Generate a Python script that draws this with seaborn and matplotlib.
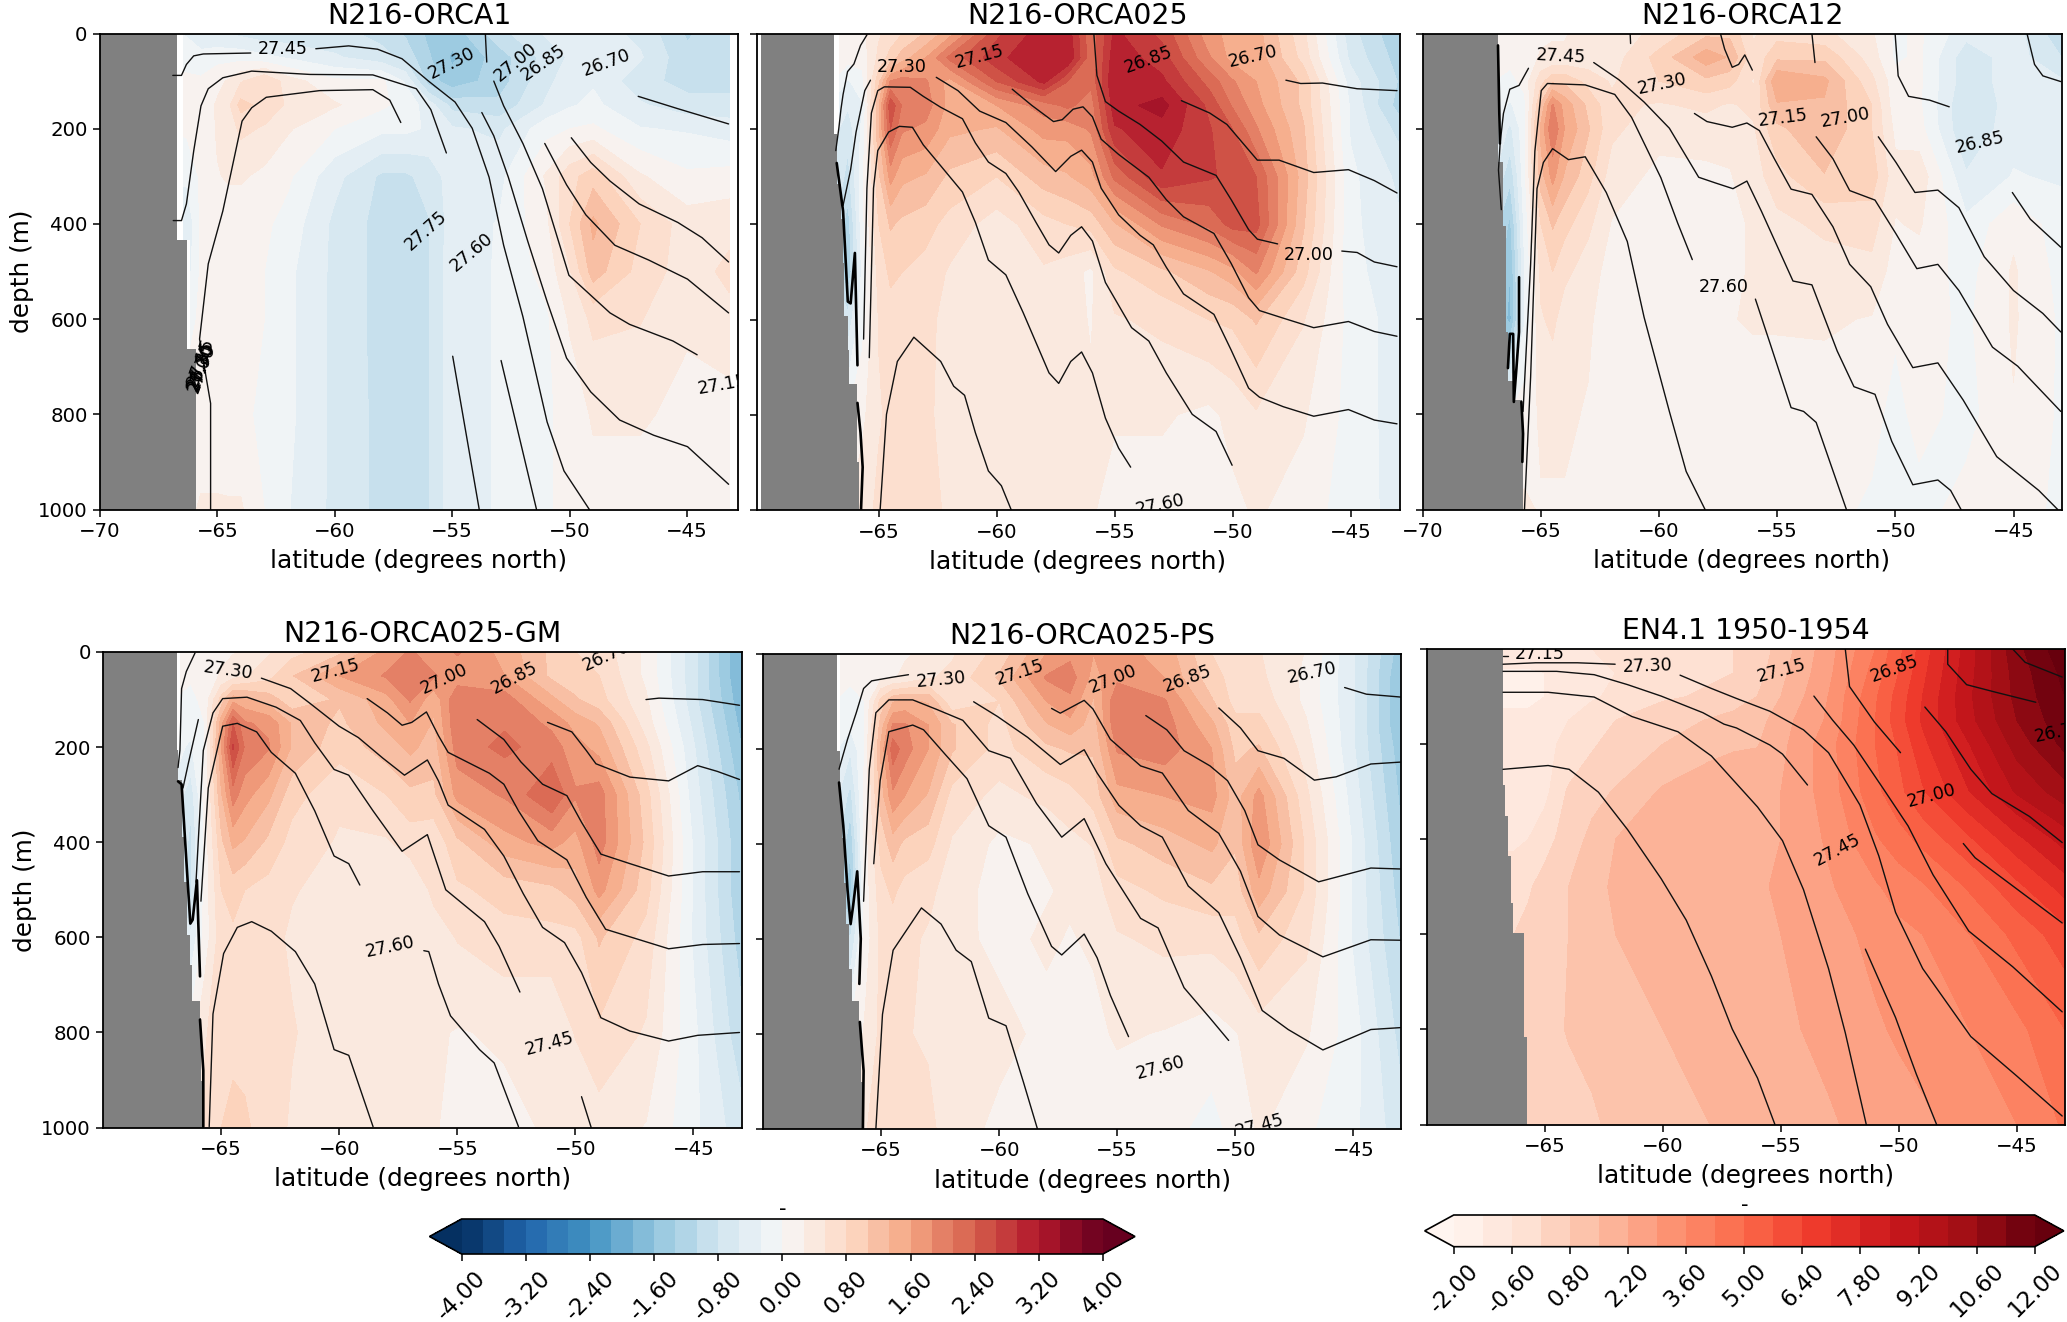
import numpy as np
import matplotlib
matplotlib.use("Agg")
import matplotlib.pyplot as plt
import seaborn as sns

# grid the colour fields were read on
field_lats = [-67, -66.3, -65.7, -65, -64.5, -64, -63, -62, -60, -58, -57, -56, -55, -53, -51, -50, -49, -47, -45, -43]
field_deps = [0, 50, 100, 150, 200, 300, 400, 500, 600, 800, 1000]

anom_ticks = ["-4.00", "-3.20", "-2.40", "-1.60", "-0.80", "0.00", "0.80", "1.60", "2.40", "3.20", "4.00"]
obs_ticks = ["-2.00", "-0.60", "0.80", "2.20", "3.60", "5.00", "6.40", "7.80", "9.20", "10.60", "12.00"]

# N216-ORCA1
orca1_field = [
    [-.2, -.3, -.4, -.5, -.55, -.6, -.7, -.7, -.7, -.9, -1.1, -1.4, -1.5, -.9, -.5, -.35, -.4, -.6, -1.1, -.9],
    [-.1, -.1, -.2, -.1, -.1, -.1, -.2, -.3, -.5, -.7, -.9, -1.3, -1.65, -1.2, -.7, -.5, -.4, -.5, -1.0, -.9],
    [.1, .05, .05, .2, .3, .5, .8, .4, .05, .05, -.3, -1.2, -1.5, -1.2, -.6, -.4, -.3, -.7, -.9, -.9],
    [.1, .05, .1, .3, .5, .9, .7, .5, .3, .05, -.1, -.4, -.9, -1.0, -.5, -.3, -.2, -.5, -.7, -.7],
    [0, .05, .05, .3, .4, .6, .5, .3, 0, -.2, -.2, -.3, -.5, -.6, -.1, 0, .05, -.25, -.3, -.4],
    [-.2, -.2, .05, .25, .3, .3, .2, .05, -.45, -.85, -.85, -.7, -.4, -.35, .3, .7, .95, .3, .05, .1],
    [-.6, -.5, .05, .1, .1, .1, .05, -.1, -.6, -.9, -.9, -.82, -.4, -.25, .2, .8, 1.4, .8, .4, .45],
    [-.5, -.4, .05, .05, .05, .05, 0, -.2, -.6, -.9, -.9, -.82, -.35, -.25, .1, .5, 1.2, .7, .4, .6],
    [-.1, -.1, .05, .05, .05, .05, 0, -.2, -.6, -.9, -.9, -.82, -.35, -.25, -.05, .3, .6, .55, .3, .45],
    [.1, .1, .1, .1, .05, .05, -.05, -.2, -.6, -.88, -.9, -.82, -.35, -.25, -.05, .1, .3, .3, .2, .15],
    [.2, .2, .3, .3, .3, .3, 0, -.25, -.6, -.88, -.9, -.82, -.35, -.25, -.05, .1, .15, .15, .1, .1],
]
orca1_lines = [
    ([-66.9, -66.53, -66.32, -66.01, -65.6, -63.58], [88, 88, 65, 47, 43, 41]),
    ([-60.81, -59.41, -58.18, -57.14, -56.01, -54.88, -54.15, -53.43, -52.81, -51.99, -50.96, -50.24, -49.16],
     [32, 26, 33, 53, 100, 144, 199, 302, 445, 595, 816, 919, 1000]),
    ([-53.59, -53.53], [0, 60]),
    ([-53.23, -52.81, -51.99, -51.16, -50.03, -48.28, -47.45, -45.6, -44.57], [100, 152, 231, 326, 508, 587, 611, 646, 675]),
    ([-53.74, -53.23, -52.61, -51.78, -50.96, -50.13, -49.1, -47.87, -46.42, -44.98, -43.23],
     [166, 215, 302, 437, 563, 682, 753, 812, 844, 868, 947]),
    ([-47.08, -45.39, -43.23], [132, 158, 190]),
    ([-49.93, -49.1, -48.28, -47.04, -45.39, -44.36, -43.23], [219, 271, 310, 358, 397, 429, 480]),
    ([-51.06, -50.13, -49.31, -48.07, -46.63, -44.98, -43.23], [231, 318, 381, 445, 476, 516, 587]),
    ([-66.88, -66.53, -66.32, -66.01, -65.7, -65.39, -64.77, -63.54, -61.06, -58.38, -56.53, -55.91, -55.25],
     [393, 393, 358, 247, 152, 116, 93, 79, 86, 87, 116, 160, 251]),
    ([-65.29, -65.29, -65.76, -65.39, -64.77, -63.95, -63.54, -62.92, -60.65, -58.38, -57.66, -57.19],
     [1000, 777, 642, 484, 373, 184, 156, 134, 120, 118, 140, 187]),
    ([-54.98, -53.85], [678, 1000]),
    ([-52.92, -51.41], [687, 1000]),
]
orca1_labels = [
    ("27.45", -62.2, 32, 0), ("27.30", -55.04, 62, 27), ("27.00", -52.3, 61, 40), ("26.85", -51.12, 61, 35),
    ("26.70", -48.44, 61, 20), ("27.75", -56.11, 414, 42), ("27.60", -54.15, 460, 40), ("27.15", -43.5, 737, 10),
    ("26.70", -65.7, 700, 70), ("26.85", -65.72, 695, 70), ("27.00", -65.68, 705, 70), ("27.15", -65.7, 690, 70),
    ("27.30", -65.66, 700, 70),
]
orca1_coast_dep = [0, 433, 663, 1000]
orca1_coast_lat = [-66.7, -66.28, -65.9, -65.9]
orca1_gap_dep = [0, 433, 663, 1000]
orca1_gap_lat = [-66.45, -66.15, -65.9, -65.9]

# N216-ORCA025
orca025_field = [
    [.1, .1, .2, .5, .65, .8, 1.1, 1.5, 2.6, 3.1, 3.1, 2.2, 3.0, 2.6, 1.7, 1.5, 1.45, .6, -.7, -1.3],
    [.1, .1, .1, .6, .9, 1.2, 1.6, 2.2, 2.85, 3.2, 3.2, 2.2, 3.1, 2.8, 1.9, 1.5, 1.5, .7, -.6, -1.2],
    [0, -.3, -.1, 1.0, 1.9, 2.0, 1.9, 1.5, 2.4, 3.0, 2.4, 2.2, 3.2, 3.0, 2.3, 1.9, 1.6, 1.0, -.4, -1.1],
    [-.3, -.5, -.3, 1.3, 2.6, 2.1, 2.0, 1.5, 1.6, 2.0, 2.2, 2.0, 3.1, 3.3, 2.6, 2.1, 1.7, 1.0, -.3, -1.2],
    [-.4, -.7, -.2, 1.3, 2.4, 1.9, 1.8, 1.4, 1.3, 1.7, 1.7, 1.9, 2.9, 3.1, 2.7, 2.4, 1.9, 1.1, -.3, -.9],
    [-.5, -.9, -.1, 1.0, 1.7, 1.4, 1.3, 1.0, .8, 1.2, 1.3, 1.5, 2.2, 2.9, 2.7, 2.6, 2.4, 1.2, -.2, -.6],
    [-.7, -1.2, -.1, .8, 1.1, 1.0, .9, .7, .4, .7, .8, .9, 1.3, 1.9, 2.2, 2.5, 2.5, 1.1, -.2, -.5],
    [-.8, -1.3, -.2, .65, .85, .8, .7, .5, .35, .5, .4, .2, .75, 1.0, 1.3, 1.5, 1.9, .9, -.2, -.4],
    [-.4, -.7, -.1, .55, .7, .7, .6, .45, .3, .4, .35, .25, .5, .6, .8, .85, 1.1, .55, -.1, -.4],
    [0, 0, .2, .5, .6, .6, .55, .5, .45, .35, .3, .3, .3, .3, .2, .35, .5, .3, -.1, -.4],
    [.3, .3, .4, .6, .65, .65, .6, .5, .4, .3, .3, .3, .15, .15, .15, .2, .3, .15, -.15, -.35],
]
orca025_lines = [
    ([-66.82, -66.69, -66.6, -66.51, -66.32, -66.05, -65.77, -65.5], [245, 198, 158, 127, 79, 63, 24, 2]),
    ([-65.35, -65.59, -65.96, -66.19, -66.51], [97, 119, 206, 285, 360]),
    ([-55.88, -55.75, -55.39, -54.83, -53.92, -53, -52.08, -50.7, -50.06, -49.32, -48.95, -48.09],
     [0, 87, 142, 162, 190, 225, 269, 297, 348, 411, 431, 441]),
    ([-59.34, -58.51, -57.59, -57.22, -56.76, -56.34, -55.94, -55.57, -54.83, -53.55, -52.81, -52.08, -50.79, -50.06,
      -49.32, -48.86, -47.85, -46.56, -45.09, -43.99, -43.03],
     [116, 150, 184, 180, 158, 153, 174, 221, 253, 301, 348, 384, 419, 482, 554, 581, 597, 617, 604, 625, 635]),
    ([-62.56, -61.64, -60.72, -59.61, -58.51, -57.5, -56.86, -56.4, -55.94, -55.57, -54.83, -53.92, -53.36, -52.81,
      -52.08, -50.79, -50.06, -49.32, -48.86, -47.85, -46.56, -45.09, -43.99, -43.03],
     [91, 119, 162, 186, 237, 289, 257, 244, 269, 324, 380, 423, 443, 490, 546, 589, 664, 744, 763, 783, 803, 789, 811, 819]),
    ([-65.64, -65.5, -65.31, -65.04, -64.76, -63.66, -63.11, -62.37, -61.45, -60.9, -60.35, -59.61, -59.06, -58.33,
      -57.78, -57.37, -56.86, -56.4, -55.94, -55.39, -54.28, -53.55, -52.81, -51.71, -50.7, -50.02],
     [641, 324, 166, 119, 111, 112, 131, 154, 178, 229, 269, 293, 332, 396, 443, 460, 423, 405, 435, 522, 617, 645, 712, 799, 835, 906]),
    ([-65.4, -65.22, -65.04, -64.58, -64.12, -63.57, -63.11, -62.37, -61.45, -60.9, -60.35, -59.61, -58.88, -57.78,
      -57.37, -56.86, -56.4, -55.94, -55.39, -54.83, -54.32],
     [680, 324, 245, 206, 194, 196, 233, 277, 332, 396, 475, 506, 585, 712, 734, 688, 668, 712, 807, 870, 910]),
    ([-64.94, -64.67, -64.21, -63.51, -62.37, -61.82, -61.36, -60.9, -60.35, -59.8, -59.38],
     [1000, 799, 688, 637, 688, 740, 759, 838, 918, 949, 1000]),
    ([-47.74, -47.11, -46.19, -44.72, -43.03], [97, 104, 103, 115, 119]),
    ([-52.17, -50.97, -50.24, -48.95, -48.03, -46.56, -45.09, -43.99, -43.03], [140, 166, 190, 265, 265, 291, 285, 308, 334]),
    ([-45.37, -44.72, -43.99, -43.03], [456, 459, 479, 489]),
]
orca025_coast_lines = [
    ([-66.78, -66.51, -66.31, -66.19, -66.01, -65.9], [271, 372, 562, 566, 460, 696]),
    ([-65.9, -65.77, -65.68, -65.75], [775, 838, 910, 1000]),
]
orca025_labels = [
    ("27.30", -64.03, 70, 0), ("27.15", -60.72, 47, 15), ("26.85", -53.55, 55, 20), ("26.70", -49.13, 47, 13),
    ("27.00", -46.75, 464, 0), ("27.60", -53.09, 989, 12),
]
orca025_coast_dep = [0, 210, 316, 388, 482, 593, 664, 735, 900, 1000]
orca025_coast_lat = [-66.875, -66.78, -66.6, -66.53, -66.45, -66.32, -66.27, -65.9, -65.83, -65.75]
orca025_gap_dep = [0, 210, 210]
orca025_gap_lat = [-66.69, -66.78, -66.78]

# N216-ORCA12
orca12_field = [
    [.15, .15, .15, .2, .25, .25, .35, .4, .6, 1.0, 1.0, .5, .7, .6, .3, -.05, .05, -.45, -.4, -1.0],
    [.1, .1, .1, .3, .3, .3, .35, .4, .9, 1.5, 1.3, .6, 1.0, 1.0, .4, -.05, .05, -.7, -.4, -.8],
    [0, -.1, .1, .7, 1.0, 1.0, .7, .5, .8, 1.0, .9, .5, 1.6, 1.4, .6, .1, .05, -.7, -.4, -.5],
    [-.1, -.3, -.1, 1.1, 1.9, 1.5, 1.0, .6, .5, .6, .5, .6, 1.3, 1.3, .8, .1, .05, -.8, -.4, -.4],
    [-.2, -.6, -.1, 1.4, 2.1, 1.6, 1.1, .6, .35, .4, .35, .5, 1.0, 1.3, .8, .2, .1, -.8, -.35, -.4],
    [-.5, -1.0, -.1, 1.2, 1.7, 1.3, .9, .4, .2, .2, .25, .4, .7, 1.05, .95, .35, .45, -.5, -.25, -.3],
    [-.9, -1.4, -.2, .8, 1.1, .9, .6, .25, .15, .2, .2, .3, .45, .6, .65, .25, .3, -.2, .2, -.15],
    [-1.1, -1.6, -.3, .6, .8, .6, .4, .15, .15, .15, .2, .3, .35, .4, .45, .15, .15, -.1, .3, -.1],
    [-1.2, -1.7, -.3, .5, .6, .4, .3, .15, .15, .15, .25, .3, .3, .3, .25, .05, .1, -.05, .3, -.05],
    [0, 0, .15, .3, .3, .3, .25, .15, .1, .1, .1, .1, .1, .15, .1, -.1, .1, -.1, .25, -.05],
    [.15, .15, .3, .25, .25, .25, .25, .15, .1, .1, .1, .1, .1, .1, -.05, -.1, -.1, .1, .1, -.05],
]
orca12_lines = [
    ([-65.52, -65.92, -66.31, -66.58, -66.72, -66.79, -66.67], [73, 109, 117, 168, 231, 287, 370]),
    ([-61.22, -61.2], [0, 21]),
    ([-57.4, -57.22, -56.9, -56.63, -56.37, -56.05], [0, 33, 71, 65, 45, 77]),
    ([-53.53, -53.4], [0, 61]),
    ([-50.01, -49.88, -49.44, -48.55, -47.72], [0, 89, 132, 140, 154]),
    ([-44.43, -44.11, -43.76, -43], [0, 65, 89, 101]),
    ([-58.5, -57.97, -56.9, -56.28, -55.75, -55.12, -54.41, -53.53, -52.64, -51.93, -51.04, -50.33, -49.26, -48.2,
      -47.13, -45.71, -43.93, -43.13],
     [168, 185, 197, 188, 204, 263, 327, 338, 406, 485, 532, 611, 702, 692, 770, 889, 960, 1000]),
    ([-50.72, -49.97, -49.17, -48.2, -47.31, -46.24, -45, -43.76, -43], [217, 271, 334, 329, 366, 469, 540, 588, 627]),
    ([-53.35, -52.64, -51.93, -50.86, -49.97, -49.09, -48.2, -47.31, -45.89, -44.82, -43],
     [217, 263, 330, 350, 421, 494, 485, 540, 659, 699, 794]),
    ([-62.76, -61.7, -60.63, -59.56, -58.32, -57.61, -56.87, -56.28, -55.66, -54.33, -53.53, -52.46, -51.75, -50.86,
      -50.15, -49.26, -48.2, -47.66, -47.22],
     [61, 97, 144, 199, 302, 314, 326, 310, 374, 520, 528, 667, 742, 758, 857, 948, 938, 960, 1000]),
    ([-65.75, -65.43, -65.25, -64.98, -64.72, -63.12, -61.87, -61.16, -59.92, -59.21, -58.59],
     [794, 485, 247, 120, 105, 108, 128, 176, 303, 398, 475]),
    ([-65.69, -65.43, -65.16, -64.89, -64.5, -63.83, -63.12, -62.23, -61.34, -60.63, -59.56, -58.85, -58.05],
     [1000, 722, 326, 271, 242, 265, 259, 334, 437, 596, 794, 920, 1000]),
    ([-55.92, -55.3, -54.41, -53.88, -53.35, -52.07], [558, 651, 786, 794, 817, 1000]),
    ([-45.05, -44.29, -43], [334, 390, 449]),
]
orca12_coast_lines = [
    ([-66.81, -66.73], [25, 231]),
    ([-65.92, -65.92, -66.03, -66.14, -66.17, -66.31, -66.39], [512, 627, 703, 774, 631, 631, 703]),
    ([-65.82, -65.75, -65.78], [774, 841, 900]),
]
orca12_labels = [
    ("27.45", -64.13, 48, -3), ("27.30", -59.87, 105, 12), ("27.15", -54.77, 177, 7), ("27.00", -52.1, 177, 10),
    ("26.85", -46.42, 228, 13), ("27.60", -57.26, 532, 0),
]
orca12_coast_dep = [0, 271, 405, 627, 730, 770, 801, 1000]
orca12_coast_lat = [-66.79, -66.58, -66.46, -66.37, -66.14, -65.78, -65.75, -65.75]

# N216-ORCA025-GM
gm_field = [
    [.05, .05, .1, .2, .25, .3, .5, .7, 1.0, 1.7, 1.9, 1.7, 1.9, 1.5, 1.0, .8, .7, .2, -.7, -1.9],
    [.05, .05, .1, .3, .4, .5, .7, 1.05, 1.6, 1.9, 2.1, 1.9, 1.7, 1.6, 1.0, .9, .8, .2, -.7, -1.9],
    [0, -.1, .1, .9, 1.5, 1.4, 1.2, .9, 1.1, 1.5, 1.9, 1.4, 2.1, 2.0, 1.4, 1.1, .9, .3, -.7, -1.8],
    [-.1, -.2, 0, 1.5, 2.4, 1.9, 1.8, 1.3, 1.0, 1.4, 1.6, 1.3, 2.1, 2.1, 1.8, 1.5, 1.3, .4, -.6, -1.7],
    [-.2, -.3, 0, 1.6, 2.7, 2.1, 1.9, 1.3, .9, 1.2, 1.4, 1.2, 2.0, 2.2, 2.0, 1.7, 1.5, .6, -.5, -1.6],
    [-.3, -.7, .1, 1.3, 2.0, 1.7, 1.4, .9, .6, .8, 1.0, 1.0, 1.7, 1.9, 2.4, 1.9, 2.0, .9, -.4, -1.4],
    [-.3, -.9, .1, 1.0, 1.4, 1.3, 1.0, .7, .5, .5, .65, .6, 1.0, 1.5, 1.7, 1.5, 2.0, 1.0, -.3, -1.3],
    [-.3, -.9, .1, .8, .9, .8, .7, .55, .45, .4, .3, .6, .75, .9, 1.0, 1.2, 1.7, .9, -.3, -1.3],
    [-.1, -.5, .1, .7, .75, .7, .6, .5, .4, .4, .4, .4, .55, .7, .7, .7, 1.1, .7, -.3, -1.2],
    [0, .1, .5, .7, .75, .7, .65, .55, .4, .4, .35, .3, .25, .3, .3, .55, .75, .5, -.2, -1.0],
    [.2, .3, .6, .8, .85, .85, .65, .5, .3, .3, .3, .3, .15, .2, .3, .3, .4, .25, -.2, -.7],
]
gm_lines = [
    ([-66.11, -66.48, -66.68, -66.75, -66.83], [2, 41, 77, 207, 243]),
    ([-65.97, -66.38, -66.62], [142, 231, 286]),
    ([-58.82, -57.96, -57.34, -56.93, -56.31, -55.8, -55.39, -53.64, -53.03, -52.41, -51.59, -50.36, -49.54, -48.72,
      -46.05, -44.61, -43.05],
     [98, 128, 154, 148, 126, 176, 211, 255, 278, 334, 397, 437, 516, 583, 624, 615, 613]),
    ([-51.18, -50.15, -49.54, -49.13, -47.69, -46.05, -44.82, -43.99, -43.05], [148, 168, 207, 235, 263, 271, 239, 251, 268]),
    ([-54.16, -53.03, -52.31, -51.39, -50.36, -49.74, -48.92, -47.69, -46.05, -44.61, -43.05],
     [142, 184, 231, 278, 302, 358, 425, 445, 471, 462, 462]),
    ([-63.3, -62.06, -61.24, -60.01, -59.19, -58.16, -57.24, -56.27, -55.8, -55.39, -53.85, -53.03, -52.21, -51.39,
      -50.46, -49.74, -48.92, -47.69, -46.05, -44.82, -43.05],
     [55, 77, 108, 156, 180, 223, 259, 227, 271, 322, 373, 429, 508, 579, 611, 674, 769, 797, 818, 806, 800]),
    ([-66.07, -65.76, -65.35, -64.94, -63.91, -62.68, -61.65, -61.04, -60.22, -59.6, -58.57, -57.34, -56.27, -55.49,
      -53.85, -53.23, -52.35],
     [484, 207, 128, 98, 95, 116, 144, 191, 247, 259, 334, 419, 384, 500, 567, 619, 715]),
    ([-65.86, -65.55, -64.94, -64.32, -63.5, -62.88, -61.86, -61.04, -60.22, -59.6, -59.13],
     [524, 286, 156, 150, 168, 211, 255, 334, 429, 445, 490]),
    ([-65.51, -65.35, -64.9, -64.32, -63.71, -62.88, -61.86, -61.04, -60.22, -59.6, -58.57],
     [998, 761, 634, 579, 567, 587, 630, 698, 836, 848, 998]),
    ([-56.42, -56.21, -55.8, -55.29, -54.06, -53.44, -52.41], [628, 630, 698, 765, 836, 864, 998]),
    ([-49.74, -49.33], [935, 1000]),
    ([-47.01, -46.46, -44.61, -43.05], [100, 97, 100, 112]),
]
gm_coast_lines = [
    ([-66.83, -66.68, -66.48, -66.31, -66.21, -66.03, -65.9], [272, 278, 437, 571, 563, 480, 682]),
    ([-65.9, -65.76, -65.76], [773, 880, 998]),
]
gm_labels = [
    ("27.30", -64.69, 39, -8), ("27.15", -60.17, 39, 15), ("27.00", -55.55, 57, 25), ("26.85", -52.56, 55, 28),
    ("26.70", -48.7, 9, 25), ("27.60", -57.85, 621, 12), ("27.45", -51.08, 823, 15),
]
gm_coast_dep = [0, 207, 270, 389, 484, 595, 658, 733, 769, 903, 1000]
gm_coast_lat = [-66.89, -66.83, -66.68, -66.56, -66.46, -66.33, -66.25, -65.92, -65.84, -65.76, -65.76]
gm_gap_dep = [0, 207, 207]
gm_gap_lat = [-66.75, -66.83, -66.83]

# N216-ORCA025-PS
ps_field = [
    [.05, .05, .1, .15, .2, .25, .3, .5, .9, 1.6, 1.8, 1.6, 1.7, 1.5, .8, .6, .55, .25, -.5, -1.5],
    [.05, .05, .1, .2, .25, .3, .5, .6, 1.1, 1.9, 2.0, 1.5, 1.8, 1.6, .9, .7, .6, .2, -.5, -1.6],
    [0, -.1, 0, .9, 1.3, 1.4, 1.3, .6, .8, 1.6, 1.8, 1.3, 2.1, 1.9, 1.1, .7, .7, .2, -.5, -1.6],
    [-.1, -.2, 0, 1.2, 1.9, 1.9, 1.6, 1.1, .7, 1.3, 1.5, 1.2, 2.1, 2.0, 1.4, .9, .9, .3, -.5, -1.6],
    [-.2, -.5, 0, 1.4, 2.3, 2.0, 1.6, 1.1, .7, 1.0, 1.1, 1.1, 1.9, 2.0, 1.6, 1.0, 1.1, .4, -.5, -1.5],
    [-.4, -.9, .1, 1.2, 1.8, 1.6, 1.3, .7, .45, .6, .7, .9, 1.5, 1.6, 1.7, 1.2, 1.7, .6, -.4, -1.4],
    [-.6, -1.3, .1, .9, 1.2, 1.0, .9, .5, .2, .3, .45, .55, 1.0, 1.2, 1.4, 1.1, 1.85, .75, -.3, -1.3],
    [-.9, -1.5, .1, .7, .85, .7, .6, .4, .15, .25, .3, .4, .7, .85, 1.0, .9, 1.5, .75, -.3, -1.2],
    [-.4, -.8, .1, .6, .65, .6, .5, .35, .2, .3, .25, .3, .5, .6, .6, .7, 1.0, .6, -.3, -1.1],
    [0, 0, .3, .6, .6, .55, .5, .4, .35, .2, .15, .2, .3, .25, .15, .25, .4, .3, -.15, -.9],
    [.3, .3, .5, .7, .7, .65, .6, .4, .2, .15, .1, .15, .1, .1, -.1, .1, .3, .05, -.2, -.7],
]
ps_lines = [
    ([-63.84, -64.49, -65.4, -65.74, -66.05, -66.42, -66.65, -66.78], [44, 49, 57, 73, 124, 180, 220, 243]),
    ([-45.37, -44.45, -43.01], [71, 85, 91]),
    ([-50.7, -49.78, -49.04, -47.94, -46.65, -45.73, -44.26, -43.01], [114, 156, 204, 220, 266, 259, 232, 228]),
    ([-53.79, -52.9, -52.17, -51.07, -50.33, -49.6, -49.04, -48.13, -46.47, -44.26, -43.01],
     [130, 160, 204, 236, 267, 330, 402, 434, 480, 451, 453]),
    ([-57.78, -57.41, -56.4, -56.03, -55.29, -54.01, -53.09, -51.99, -50.7, -49.78, -49.04, -48.13, -46.29, -44.26, -43.01],
     [115, 125, 98, 116, 180, 236, 251, 330, 378, 458, 553, 592, 638, 602, 603]),
    ([-61.08, -60.07, -58.79, -57.41, -56.4, -55.85, -54.93, -54.01, -53.09, -51.99, -50.7, -49.78, -48.86, -47.76,
      -46.29, -44.26, -43.01],
     [101, 132, 176, 233, 202, 251, 319, 362, 386, 489, 545, 640, 751, 791, 834, 791, 787]),
    ([-65.74, -65.5, -65.22, -64.67, -63.66, -62.65, -61.54, -60.44, -59.52, -58.42, -57.35, -56.4, -55.48, -54.01,
      -53.27, -52.17, -51.07, -50.28],
     [521, 243, 124, 97, 97, 117, 140, 204, 220, 315, 386, 347, 442, 557, 577, 703, 767, 814]),
    ([-65.31, -65.04, -64.67, -63.66, -63.2, -62.28, -61.36, -60.44, -59.71, -58.79, -57.78, -57.35, -56.4, -55.85,
      -55.29, -54.52],
     [442, 267, 164, 150, 160, 212, 263, 362, 386, 505, 616, 634, 590, 640, 719, 806]),
    ([-65.22, -64.94, -64.49, -63.29, -62.46, -61.82, -61.18, -60.44, -59.71, -58.97, -58.38],
     [1000, 759, 624, 535, 569, 624, 648, 767, 783, 902, 1000]),
]
ps_coast_lines = [
    ([-66.78, -66.6, -66.42, -66.29, -66.18, -66.01, -65.86, -65.92], [271, 362, 497, 569, 529, 458, 600, 695]),
    ([-65.9, -65.74, -65.77], [775, 878, 1000]),
]
ps_labels = [
    ("27.30", -62.45, 55, 5), ("27.15", -59.1, 39, 18), ("27.00", -55.18, 53, 22), ("26.85", -52.04, 53, 20),
    ("26.70", -46.75, 41, 12), ("27.60", -53.18, 872, 15), ("27.45", -48.95, 993, 15),
]
ps_coast_dep = [0, 204, 315, 387, 482, 569, 664, 731, 775, 902, 1000]
ps_coast_lat = [-66.87, -66.74, -66.65, -66.58, -66.47, -66.36, -66.25, -65.92, -65.85, -65.77, -65.77]
ps_gap_dep = [0, 204, 204]
ps_gap_lat = [-66.72, -66.74, -66.74]

# EN4.1 1950-1954
en4_field = [
    [-.9, -.9, -.9, -.8, -.75, -.7, -.6, -.5, -.25, 0, .1, .35, 1.1, 2.6, 4.3, 5.5, 6.7, 8.9, 11.1, 12.5],
    [-1.4, -1.4, -1.4, -1.3, -1.2, -1.1, -.9, -.6, -.2, 0, .1, .5, 1.3, 2.7, 4.6, 5.7, 6.9, 9, 10.9, 12.2],
    [-1.4, -1.4, -1.4, -1.3, -1.15, -1, -.7, -.45, 0, .2, .5, .8, 1.5, 2.9, 4.9, 6, 7.1, 9.1, 10.8, 12],
    [-1.2, -1.2, -1.2, -1, -.8, -.6, -.2, .1, .5, .85, 1, 1.2, 1.9, 3, 5, 6.1, 7.2, 9, 10.6, 11.8],
    [-1.2, -1.1, -1, -.7, -.6, -.5, 0, .4, .8, 1.3, 1.4, 1.45, 2, 3.3, 5, 5.8, 6.9, 8.5, 10.2, 11.5],
    [-1, -1.1, -1, -.8, -.3, .2, .6, .85, 1.6, 1.85, 2, 2.1, 2.2, 3.2, 4.8, 5.5, 6.3, 7.8, 9.3, 10.3],
    [-.7, -.7, -.6, -.2, .15, .5, .95, 1.5, 1.85, 2, 2.1, 2.15, 2.2, 3, 4.2, 4.7, 5.2, 6.3, 7.6, 8.8],
    [-.3, -.3, 0, .4, .6, .8, 1.3, 1.6, 1.85, 2, 2.05, 2.15, 2.25, 2.8, 3.5, 3.9, 4.2, 5.1, 6.2, 7.4],
    [0, .1, .3, .6, .7, .8, 1.2, 1.5, 1.75, 1.9, 2, 2.1, 2.2, 2.6, 3.1, 3.4, 3.6, 4.3, 5.2, 6.1],
    [.2, .3, .4, .6, .7, .85, 1, 1.1, 1.5, 1.7, 1.8, 1.9, 2.05, 2.4, 2.8, 3, 3.2, 3.6, 4.1, 5],
    [.1, .1, .2, .4, .45, .5, .7, .95, 1.15, 1.5, 1.6, 1.7, 1.8, 2.1, 2.5, 2.6, 2.75, 3.2, 3.6, 4.4],
]
en4_lines = [
    ([-66.77, -66.54], [14, 14]),
    ([-66.77, -65.39, -63.62, -62.02], [32, 29, 29, 32]),
    ([-66.77, -64.5, -62.91, -61.49, -60.07, -58.3, -57.41, -56.88, -55.46, -54.93, -53.87],
     [47, 47, 54, 75, 99, 134, 158, 166, 202, 221, 286]),
    ([-66.77, -64.86, -62.91, -61.31, -59.36, -57.94, -55.99, -54.93, -54.04, -52.98, -52.27, -51.38],
     [91, 91, 101, 142, 174, 225, 332, 403, 506, 672, 807, 1000]),
    ([-66.77, -64.86, -63.97, -62.73, -61.49, -60.07, -59.01, -57.94, -57.06, -55.99, -55.25],
     [253, 245, 253, 301, 380, 483, 570, 688, 799, 902, 1000]),
    ([-59.27, -57.94, -56.88, -55.46, -54.04, -52.98, -51.65, -50.85, -50.14, -48.99, -46.95, -45, -43.08],
     [55, 83, 104, 131, 170, 218, 328, 435, 554, 672, 815, 898, 982]),
    ([-53.6, -52.8, -51.91, -50.67, -49.61, -48.55, -47.04, -45.18, -43.08], [99, 150, 202, 293, 372, 475, 593, 668, 763]),
    ([-51.42, -50.14, -49.26, -48.4], [631, 775, 894, 1000]),
    ([-52.27, -52.09, -51.03, -49.93], [0, 79, 154, 218]),
    ([-48.9, -48.01, -46.95, -46.06, -44.47, -43.08], [122, 174, 253, 304, 352, 407]),
    ([-47.27, -46.77, -45.18, -43.08], [409, 439, 498, 576]),
    ([-47.93, -47.93, -47.13, -45.89, -44.2], [0, 32, 75, 91, 112]),
    ([-45.18, -44.65, -43.08], [0, 28, 59]),
]
en4_labels = [
    ("27.15", -65.2, 10, 0), ("27.30", -60.66, 37, 2), ("27.15", -54.96, 46, 15), ("26.85", -50.2, 41, 20),
    ("27.00", -48.63, 308, 15), ("27.45", -52.62, 423, 28), ("26.70", -43.2, 175, 12),
]
en4_coast_dep = [0, 285, 352, 435, 534, 597, 815, 1000]
en4_coast_lat = [-66.79, -66.67, -66.56, -66.45, -66.35, -65.87, -65.76, -65.76]


def px_axes(fig, x0, x1, y0, y1):
    """axes from pixel box of the 2067x1322 picture"""
    return fig.add_axes([x0 / 2067, 1 - y1 / 1322, (x1 - x0) / 2067, (y1 - y0) / 1322])


def draw_panel(ax, title, field, lines, labels, coast_dep, coast_lat, xlim, xticks, levels, cmap,
               coast_lines=(), gap_dep=None, gap_lat=None, data_right=None, ylabel=False):
    lats = list(field_lats)
    lats[-1] = data_right if data_right is not None else xlim[1]
    cf = ax.contourf(lats, field_deps, np.array(field), levels=levels, cmap=cmap, extend="both")
    if gap_dep is not None:
        ax.fill_betweenx(gap_dep, -70, gap_lat, step="post", color="white", lw=0)
    ax.fill_betweenx(coast_dep, -70, coast_lat, step="post", color="#808080", lw=0)
    for lat, dep in lines:
        sns.lineplot(x=lat, y=dep, sort=False, estimator=None, color="#111111", lw=1.0, ax=ax, legend=False)
    for lat, dep in coast_lines:
        sns.lineplot(x=lat, y=dep, sort=False, estimator=None, color="black", lw=1.9, ax=ax, legend=False)
    for txt, lat, dep, rot in labels:
        ax.text(lat, dep, txt, fontsize=12.6, rotation=rot, ha="center", va="center", clip_on=True,
                rotation_mode="anchor", color="black", zorder=5)
    ax.set_xlim(*xlim)
    ax.set_ylim(1000, 0)
    ax.set_xticks(xticks)
    ax.set_yticks([0, 200, 400, 600, 800, 1000])
    ax.tick_params(labelsize=14.2, length=5, width=1.1, pad=4)
    ax.set_title(title, fontsize=20.4, pad=7)
    ax.set_xlabel("latitude (degrees north)", fontsize=17.8, labelpad=6)
    if ylabel:
        ax.set_ylabel("depth (m)", fontsize=17.8, labelpad=3)
    else:
        ax.set_yticklabels([])
    for sp in ax.spines.values():
        sp.set_linewidth(1.3)
    return cf


sns.set_style("ticks", {"axes.edgecolor": "black", "xtick.color": "black", "ytick.color": "black",
                        "text.color": "black", "axes.labelcolor": "black", "font.family": ["DejaVu Sans"]})

rdbu = sns.color_palette("RdBu_r", as_cmap=True)
reds = sns.color_palette("Reds", as_cmap=True)
anom_levels = np.linspace(-4, 4, 31)
obs_levels = np.linspace(-2, 12, 21)
ticks_70 = [-70, -65, -60, -55, -50, -45]
ticks_65 = [-65, -60, -55, -50, -45]

fig = plt.figure(figsize=(20.67, 13.22), dpi=100)

ax1 = px_axes(fig, 100, 738, 33.5, 509.5)
cf_anom = draw_panel(ax1, "N216-ORCA1", orca1_field, orca1_lines, orca1_labels, orca1_coast_dep, orca1_coast_lat,
                     (-70, -42.83), ticks_70, anom_levels, rdbu, gap_dep=orca1_gap_dep, gap_lat=orca1_gap_lat,
                     data_right=-43.2, ylabel=True)

ax2 = px_axes(fig, 756.5, 1399.6, 34, 510)
draw_panel(ax2, "N216-ORCA025", orca025_field, orca025_lines, orca025_labels, orca025_coast_dep, orca025_coast_lat,
           (-70.18, -42.92), ticks_65, anom_levels, rdbu, coast_lines=orca025_coast_lines,
           gap_dep=orca025_gap_dep, gap_lat=orca025_gap_lat)

ax3 = px_axes(fig, 1422.6, 2061.5, 33.5, 509.5)
draw_panel(ax3, "N216-ORCA12", orca12_field, orca12_lines, orca12_labels, orca12_coast_dep, orca12_coast_lat,
           (-70, -42.97), ticks_70, anom_levels, rdbu, coast_lines=orca12_coast_lines)

ax4 = px_axes(fig, 103.2, 741.6, 652, 1127.6)
draw_panel(ax4, "N216-ORCA025-GM", gm_field, gm_lines, gm_labels, gm_coast_dep, gm_coast_lat,
           (-70, -42.96), ticks_65, anom_levels, rdbu, coast_lines=gm_coast_lines,
           gap_dep=gm_gap_dep, gap_lat=gm_gap_lat, ylabel=True)

ax5 = px_axes(fig, 763, 1401.3, 653.8, 1128.8)
draw_panel(ax5, "N216-ORCA025-PS", ps_field, ps_lines, ps_labels, ps_coast_dep, ps_coast_lat,
           (-70, -42.97), ticks_65, anom_levels, rdbu, coast_lines=ps_coast_lines,
           gap_dep=ps_gap_dep, gap_lat=ps_gap_lat)

ax6 = px_axes(fig, 1426.8, 2064.8, 649, 1124.6)
cf_obs = draw_panel(ax6, "EN4.1 1950-1954", en4_field, en4_lines, en4_labels, en4_coast_dep, en4_coast_lat,
                    (-70, -42.97), ticks_65, obs_levels, reds)

# cax box takes the end triangles too
cax1 = px_axes(fig, 429.5, 1135, 1219, 1254)
cb1 = fig.colorbar(cf_anom, cax=cax1, orientation="horizontal", ticks=anom_levels[::3], drawedges=False)
cb1.ax.set_xticklabels(anom_ticks, rotation=45, fontsize=16.5)
cb1.ax.set_title("-", fontsize=15, pad=0)

cax2 = px_axes(fig, 1424.7, 2063.8, 1215, 1246.7)
cb2 = fig.colorbar(cf_obs, cax=cax2, orientation="horizontal", ticks=obs_levels[::2], drawedges=False)
cb2.ax.set_xticklabels(obs_ticks, rotation=45, fontsize=16.5)
cb2.ax.set_title("-", fontsize=15, pad=0)

for cb in (cb1, cb2):
    cb.ax.tick_params(length=5, width=1.1, pad=4)
    cb.outline.set_linewidth(1.2)

plt.savefig("out.png", dpi=100)
